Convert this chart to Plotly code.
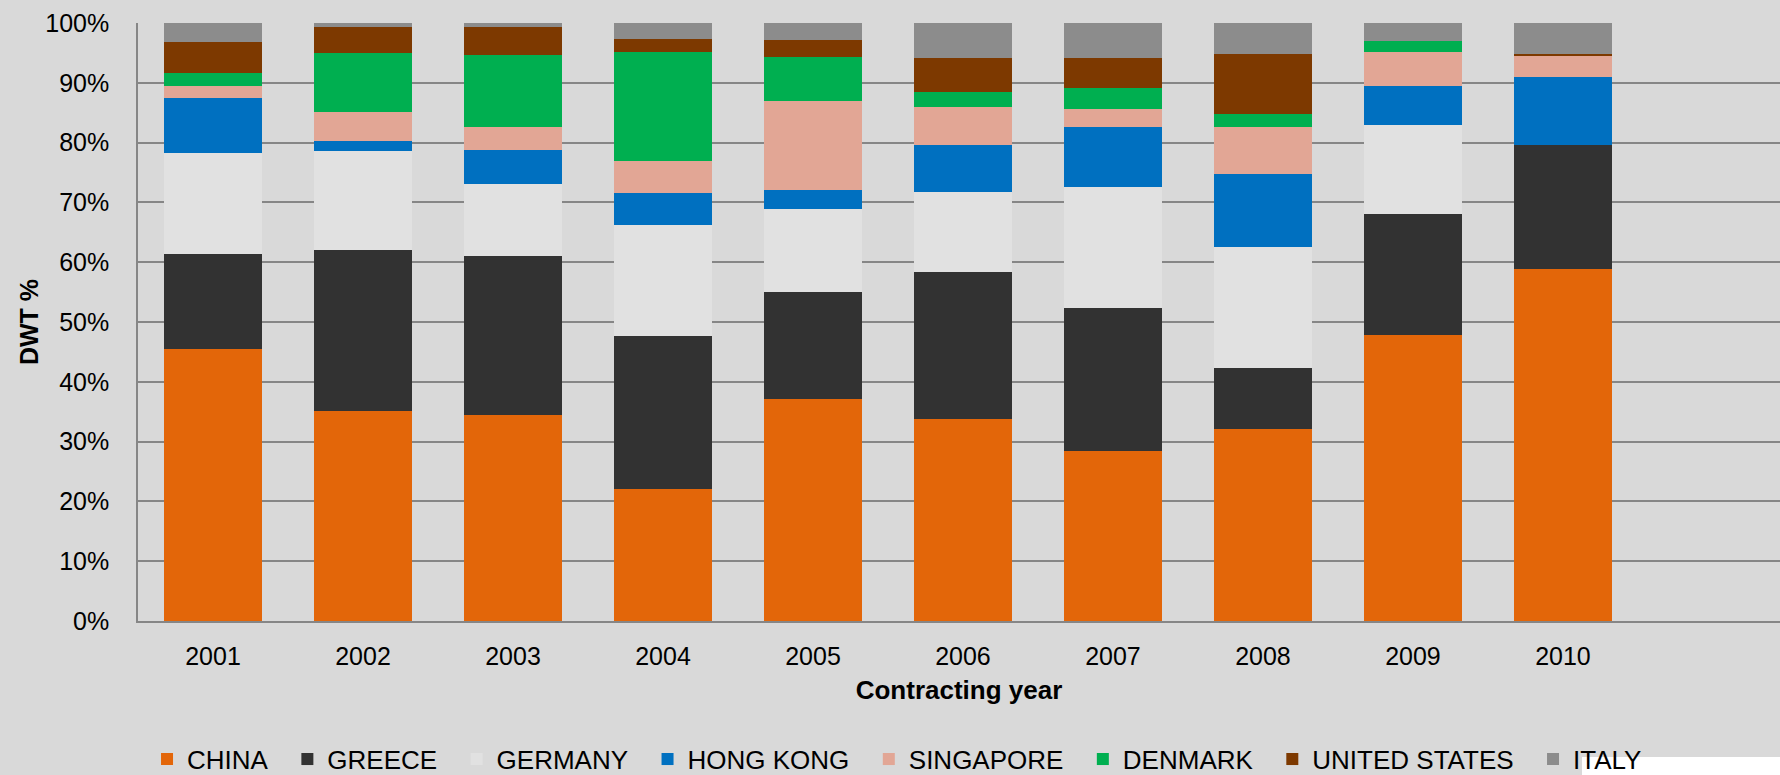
import plotly.graph_objects as go

# Share of contracted deadweight tonnage by owner nationality, per contracting year
years = ["2001", "2002", "2003", "2004", "2005", "2006", "2007", "2008", "2009", "2010"]

china = [45.5, 35.2, 34.5, 22.1, 37.1, 33.7, 28.5, 32.1, 47.9, 58.9]
greece = [15.9, 26.8, 26.6, 25.6, 18.0, 24.7, 23.8, 10.2, 20.2, 20.7]
germany = [16.8, 16.6, 11.9, 18.6, 13.8, 13.3, 20.2, 20.2, 14.9, 0.0]
hong_kong = [9.2, 1.7, 5.8, 5.2, 3.2, 7.9, 10.1, 12.3, 6.5, 11.3]
singapore = [2.1, 4.9, 3.8, 5.4, 14.8, 6.3, 3.0, 7.8, 5.6, 3.6]
denmark = [2.2, 9.8, 12.1, 18.3, 7.4, 2.6, 3.5, 2.2, 1.9, 0.0]
united_states = [5.1, 4.3, 4.6, 2.1, 2.8, 5.6, 5.0, 10.0, 0.0, 0.3]
italy = [3.2, 0.7, 0.7, 2.7, 2.9, 5.9, 5.9, 5.2, 3.0, 5.2]

y_ticks = [0, 10, 20, 30, 40, 50, 60, 70, 80, 90, 100]
y_tick_text = [f"{v}%" for v in y_ticks]

series = [
    ("CHINA", china, "#E36609"),
    ("GREECE", greece, "#323232"),
    ("GERMANY", germany, "#E1E1E1"),
    ("HONG KONG", hong_kong, "#0070C0"),
    ("SINGAPORE", singapore, "#E2A695"),
    ("DENMARK", denmark, "#00AF50"),
    ("UNITED STATES", united_states, "#7D3900"),
    ("ITALY", italy, "#8C8C8C"),
]

BG = "#D9D9D9"
GRID = "#868686"
FONT = "Liberation Sans, Arial, sans-serif"
PAD = "\u00a0\u00a0"  # extra room after each legend entry

fig = go.Figure()
for name, vals, color in series:
    fig.add_trace(go.Bar(
        name=name + PAD,
        x=list(range(len(years))),
        y=vals,
        marker=dict(color=color, line=dict(width=0)),
        width=0.65,
    ))

fig.update_layout(
    width=1780,
    height=775,
    barmode="stack",
    paper_bgcolor=BG,
    plot_bgcolor=BG,
    margin=dict(l=138, r=0, t=23, b=154, autoexpand=False),
    font=dict(family=FONT, size=25, color="#000000"),
    showlegend=True,
    legend=dict(
        orientation="h",
        x=0.0055,
        xanchor="left",
        y=-0.231,
        yanchor="middle",
        font=dict(family=FONT, size=26, color="#000000"),
        itemwidth=30,
        bgcolor="rgba(0,0,0,0)",
        traceorder="normal",
    ),
    xaxis=dict(
        range=[-0.5, 10.447],
        tickmode="array",
        tickvals=list(range(len(years))),
        ticktext=years,
        showgrid=False,
        showline=True,
        linecolor=GRID,
        linewidth=1.5,
        ticks="",
        ticklabelstandoff=12,
        tickfont=dict(size=25),
        title=dict(text="<b>Contracting year</b>", font=dict(size=26), standoff=12),
        zeroline=False,
        automargin=False,
    ),
    yaxis=dict(
        range=[0, 100],
        tickmode="array",
        tickvals=y_ticks,
        ticktext=y_tick_text,
        showgrid=True,
        gridcolor=GRID,
        gridwidth=1.5,
        showline=True,
        linecolor=GRID,
        linewidth=1.5,
        ticks="",
        ticklabelstandoff=22,
        tickfont=dict(size=25),
        title=dict(text="<b>DWT %</b>", font=dict(size=25), standoff=0),
        zeroline=False,
        automargin=False,
    ),
    shapes=[
        dict(
            type="rect", xref="paper", yref="paper",
            x0=(1582 - 138) / 1642, x1=1.02,
            y0=(621 - 757) / 598, y1=-0.35,
            fillcolor="#FFFFFF", line=dict(width=0), layer="below",
        )
    ],
)

fig.write_html("out.html")
